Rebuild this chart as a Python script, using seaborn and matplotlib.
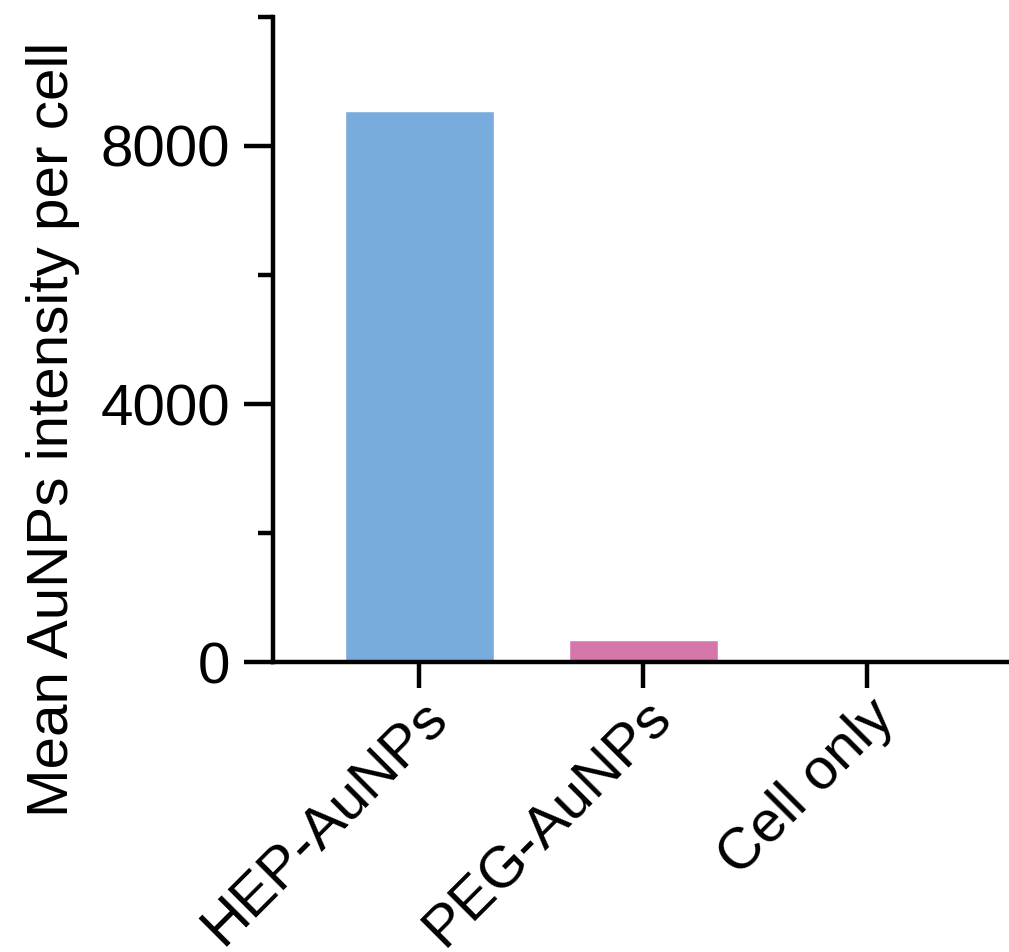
import matplotlib
matplotlib.use("Agg")
import matplotlib.pyplot as plt
import seaborn as sns
import pandas as pd
from matplotlib.ticker import FixedLocator

# data
groups = ['HEP-AuNPs', 'PEG-AuNPs', 'Cell only']
intensity = [8550, 340, 0]
bar_colors = ['#78acdc', '#d677ac', '#bbbbbb']
major_ticks = [0, 4000, 8000]
minor_ticks = [2000, 6000, 10000]

df = pd.DataFrame({'group': groups, 'intensity': intensity})

sns.set_theme(style='ticks')
plt.rcParams['font.family'] = ['Liberation Sans', 'DejaVu Sans']

fig = plt.figure(figsize=(10.09, 9.52), dpi=100)
# axes runs off the right edge like the original
ax = fig.add_axes([273 / 1009, 1 - 662 / 952, (1009 - 273) / 1009, (662 - 17) / 952])

sns.barplot(data=df, x='group', y='intensity', hue='group', palette=bar_colors,
            width=0.665, legend=False, saturation=1, ax=ax)

ax.set_xlim(-0.654, 2.634)
ax.set_ylim(0, 10000)
ax.yaxis.set_major_locator(FixedLocator(major_ticks))
ax.yaxis.set_minor_locator(FixedLocator(minor_ticks))

for s in ['top', 'right']:
    ax.spines[s].set_visible(False)
for s in ['left', 'bottom']:
    ax.spines[s].set_linewidth(3.2)
    ax.spines[s].set_color('black')

ax.tick_params(axis='y', which='major', length=21, width=3.2, labelsize=42, pad=10,
               color='black', labelcolor='black')
ax.tick_params(axis='y', which='minor', length=11, width=3.2, color='black')
ax.tick_params(axis='x', which='major', length=19, width=3.2, labelsize=42, pad=1,
               color='black', labelcolor='black')

ax.set_xticks(range(len(groups)))
ax.set_xticklabels(groups, rotation=45, ha='right', rotation_mode='anchor')
ax.set_xlabel('')
ax.set_ylabel('Mean AuNPs intensity per cell', fontsize=42, color='black')
ax.yaxis.set_label_coords(-0.262, 0.36)

fig.savefig('out.png', dpi=100)
